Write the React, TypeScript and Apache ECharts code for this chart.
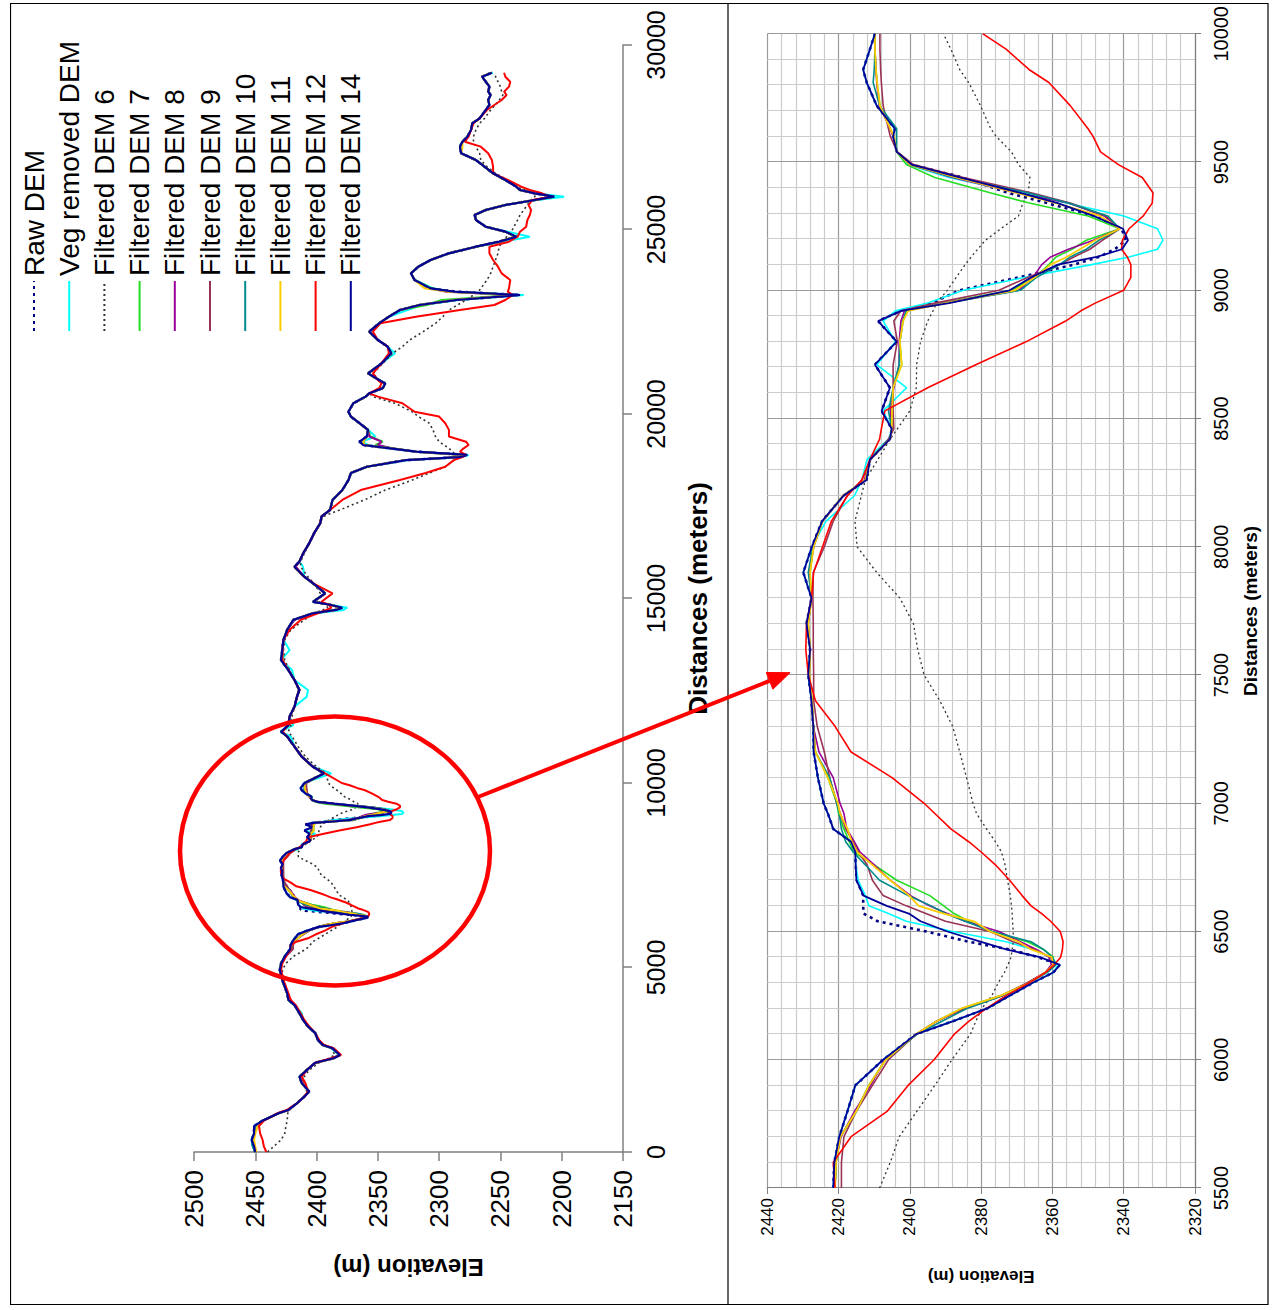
import React, { useEffect, useRef } from "react";
import * as echarts from "echarts";

const FONT = '"Liberation Sans", Arial, Helvetica, sans-serif';

// ---------- series names ----------
const seriesNames = [
  "Raw DEM",
  "Veg removed DEM",
  "Filtered DEM 6",
  "Filtered DEM 7",
  "Filtered DEM 8",
  "Filtered DEM 9",
  "Filtered DEM 10",
  "Filtered DEM 11",
  "Filtered DEM 12",
  "Filtered DEM 14",
];

// ---------- distances (m) ----------
// part A: 0 .. 5300 (full profile only)
const distA = [0, 150, 325, 500, 700, 850, 1050, 1140, 1320, 1500, 1640, 1860, 2040, 2220, 2420, 2540, 2630, 2810, 2900, 3040, 3220, 3400, 3580, 3760, 3980, 4120, 4300, 4480, 4660, 4930, 5110, 5300];
// zoomed section 5500 .. 10000 (both charts)
const distZ = [
  5500, 5600, 5700, 5800, 5900, 6000, 6100, 6150, 6200, 6250,
  6300, 6340, 6370, 6400, 6430, 6460, 6500, 6540, 6570, 6600,
  6640, 6700, 6760, 6810, 6850, 6900, 6960, 7000, 7100, 7200,
  7300, 7400, 7500, 7600, 7700, 7800, 7900, 8000, 8100, 8200,
  8260, 8340, 8420, 8460, 8530, 8620, 8710, 8800, 8880, 8920,
  8950, 9000, 9050, 9100, 9130, 9160, 9195, 9240, 9290, 9340,
  9380, 9440, 9490, 9540, 9600, 9630, 9720, 9810, 9860, 9940,
  10000,
];
// part B: 10260 .. 29250 (full profile only)
const distB = [
  10260, 10440, 10710, 10985, 11260, 11390, 11570, 11800, 12070, 12340,
  12520, 12790, 13060, 13330, 13600, 13880, 14150, 14420, 14600, 14690,
  14750, 14830, 14910, 15140, 15360, 15590, 15860, 16000, 16220, 16500,
  16770, 17040, 17220, 17400, 17670, 17940, 18210, 18400, 18570, 18750,
  18830, 18890, 18980, 19070, 19160, 19250, 19390, 19570, 19750, 19930,
  20060, 20290, 20470, 20560, 20700, 20830, 20920, 21100, 21370, 21645,
  21825, 22006, 22231, 22457, 22637, 22818, 22954, 23089, 23225, 23315,
  23405, 23631, 23811, 23992, 24173, 24354, 24534, 24670, 24805, 24941,
  25076, 25257, 25392, 25528, 25664, 25799, 25890, 25980, 26070, 26160,
  26341, 26522, 26703, 26883, 27064, 27245, 27380, 27516, 27696, 27877,
  28013, 28238, 28374, 28509, 28645, 28735, 28871, 29006, 29141, 29250,
];

// ---------- elevations (m) ----------
const rawA = [2450, 2452, 2453, 2451, 2451, 2444, 2431, 2423, 2416, 2410, 2406, 2412, 2414, 2408, 2401, 2386, 2381, 2387, 2395, 2399, 2401, 2407, 2411, 2414, 2418, 2423, 2424, 2426, 2428, 2430, 2429, 2426];
const vegA = [2450, 2452, 2453, 2451, 2451, 2444, 2431, 2423, 2416, 2410, 2406, 2412, 2414, 2408, 2401, 2387, 2382, 2388, 2395, 2399, 2401, 2407, 2411, 2412, 2418, 2423, 2424, 2426, 2428, 2430, 2429, 2426];
const f6A = [2440, 2435, 2429, 2426, 2425, 2424, 2423.5, 2422, 2416, 2410, 2408, 2410, 2410, 2406, 2398, 2390, 2385, 2388, 2394, 2398, 2401, 2406, 2410, 2413, 2417, 2421, 2423, 2425, 2427, 2428, 2425, 2419];
const f7A = [2450, 2452, 2452, 2451, 2450, 2444, 2431, 2423, 2416, 2410, 2406, 2412, 2414, 2408, 2401, 2386, 2381, 2387, 2395, 2399, 2401, 2407, 2411, 2414, 2418, 2423, 2424, 2426, 2428, 2430, 2429, 2426];
const f8A = [2450, 2451, 2452, 2451, 2450, 2444, 2431, 2423, 2416, 2410, 2406, 2411, 2413, 2408, 2401, 2386, 2381, 2387, 2395, 2399, 2401, 2407, 2411, 2414, 2418, 2422, 2424, 2426, 2428, 2429, 2429, 2425];
const f9A = [2450, 2451, 2452, 2451, 2450, 2444, 2431, 2423, 2416, 2410, 2406, 2411, 2413, 2408, 2401, 2387, 2381, 2387, 2395, 2399, 2401, 2407, 2411, 2414, 2418, 2422, 2424, 2426, 2428, 2429, 2429, 2425];
const f10A = [2450, 2452, 2452, 2451, 2450, 2444, 2431, 2423, 2416, 2410, 2406, 2412, 2414, 2408, 2401, 2386, 2381, 2387, 2395, 2399, 2401, 2407, 2411, 2414, 2418, 2423, 2424, 2426, 2428, 2430, 2429, 2426];
const f11A = [2449, 2450, 2451, 2450, 2448, 2443, 2431, 2423, 2416, 2410, 2406, 2412, 2414, 2408, 2401, 2386, 2381, 2387, 2395, 2399, 2401, 2407, 2411, 2414, 2418, 2423, 2424, 2426, 2428, 2430, 2429, 2426];
const f12A = [2441, 2443, 2444, 2446, 2447, 2443, 2432, 2424, 2416, 2410, 2407, 2409, 2412, 2408, 2401, 2388, 2380, 2386, 2394, 2398, 2401, 2406, 2410, 2413, 2417, 2421, 2423, 2425, 2427, 2429, 2428, 2425];
const f14A = [2450, 2451, 2453, 2451, 2451, 2444, 2431, 2423, 2416, 2410, 2406, 2412, 2414, 2408, 2401, 2386, 2381, 2387, 2395, 2399, 2401, 2407, 2411, 2414, 2418, 2423, 2424, 2426, 2428, 2430, 2429, 2426];

const rawZ = [
  2421.5, 2421.2, 2419.8, 2417.5, 2415.3, 2407.5, 2398.2, 2388, 2378.3, 2372,
  2365.5, 2359.8, 2358, 2364, 2372, 2383.5, 2395.3, 2409, 2413, 2413.1,
  2413.1, 2414.9, 2415.2, 2415.3, 2416.5, 2421.5, 2423, 2424.2, 2425.8, 2427,
  2427.1, 2427.6, 2428.5, 2428, 2429, 2427.6, 2429.9, 2427.5, 2424.6, 2418.6,
  2412.2, 2411.2, 2405.6, 2405.1, 2407.9, 2405.6, 2409.8, 2403.7, 2408.9, 2402.5,
  2394, 2386, 2369.5, 2354, 2347, 2342.5, 2339.4, 2340.6, 2348, 2361.5,
  2372.5, 2385.2, 2399.5, 2403.7, 2404.7, 2404.2, 2409.3, 2412.1, 2413.1, 2411.2,
  2409.8,
];
const vegZ = [
  2421.5, 2421.2, 2419.8, 2417.5, 2415.3, 2407.5, 2398.2, 2388, 2378.3, 2372,
  2365.5, 2359.8, 2358.4, 2360.5, 2365.5, 2373, 2388, 2401, 2406, 2411.5,
  2412.5, 2414.5, 2415.2, 2415.3, 2416.5, 2421.5, 2423, 2424.2, 2425.8, 2427,
  2427.1, 2427.6, 2428.5, 2428, 2429, 2427.6, 2429.9, 2427.5, 2423.5, 2415.5,
  2413.5, 2412, 2406, 2405, 2407.5, 2400.9, 2409.3, 2404, 2407.5, 2404,
  2395, 2385, 2368, 2349, 2338.5, 2330.5, 2329, 2330.5, 2340, 2356,
  2369, 2389, 2400.5, 2403.7, 2404.7, 2404.2, 2409.3, 2412.1, 2413.1, 2411.2,
  2409.8,
];
const f6Z = [
  2408.5, 2405.5, 2403, 2398, 2393, 2388.2, 2383, 2381.5, 2379.8, 2377,
  2375.2, 2373.5, 2372.5, 2371.6, 2371.3, 2371, 2371, 2371.2, 2371.3, 2371.5,
  2371.8, 2372.6, 2373.3, 2374.3, 2376, 2378.5, 2381.3, 2382.3, 2384.1, 2386,
  2388, 2391.6, 2396, 2397.8, 2399, 2402.8, 2409.3, 2414.8, 2415.4, 2413.6,
  2412.5, 2409, 2405.5, 2403.5, 2400, 2398.2, 2398.1, 2397, 2395, 2393.5,
  2392.5, 2389.5, 2387, 2384.5, 2382.8, 2381, 2378.8, 2374.5, 2369.5, 2368.3,
  2366.8, 2366.3, 2369.5, 2371.5, 2375.8, 2377.3, 2380.2, 2383.5, 2386, 2388.5,
  2390.6,
];
const f7Z = [
  2421, 2420.7, 2419.5, 2415, 2411.5, 2406.8, 2398.2, 2392.5, 2385.5, 2374.5,
  2366.5, 2362, 2359.5, 2359.8, 2362.5, 2367, 2377, 2383.5, 2387.6, 2390.5,
  2394.4, 2403.7, 2410, 2415.8, 2417, 2418.5, 2420, 2420.5, 2423, 2426.5,
  2427.1, 2427.4, 2428.2, 2428, 2428.5, 2427.6, 2428, 2427, 2424.5, 2418.7,
  2412.5, 2411.2, 2405.6, 2405.1, 2405, 2404.7, 2402.3, 2402.8, 2401.9, 2401,
  2391, 2371.5, 2365, 2361, 2359, 2354.5, 2350.5, 2341.1, 2350, 2366.5,
  2377.5, 2393, 2401, 2403.7, 2404.5, 2405.5, 2408.4, 2409.2, 2409.5, 2409.8,
  2409.8,
];
const f8Z = [
  2421, 2420.8, 2419.3, 2415.5, 2411, 2407, 2398.2, 2392.5, 2384.5, 2374,
  2367, 2362, 2360.3, 2361, 2364.5, 2369, 2375, 2384.5, 2389.5, 2394.5,
  2399.8, 2405.5, 2410, 2414, 2415.6, 2417.7, 2418.5, 2419.6, 2421.5, 2425.5,
  2427.1, 2427.6, 2428.2, 2428, 2428.5, 2427.6, 2428.2, 2427, 2424.5, 2418.5,
  2412.8, 2411.2, 2405.6, 2405, 2405.5, 2404.5, 2403, 2403, 2402.5, 2401.5,
  2390.5, 2369.5, 2365.5, 2363, 2360.5, 2355.5, 2348.5, 2341.1, 2345.5, 2355.5,
  2370, 2388, 2400, 2403.7, 2404.7, 2405.5, 2408.6, 2409.3, 2409.5, 2409.8,
  2409.8,
];
const f9Z = [
  2419.2, 2419.2, 2418.5, 2415, 2410.5, 2406, 2398.2, 2392.5, 2385, 2374.5,
  2367, 2362, 2359.8, 2360.5, 2365, 2371, 2377.5, 2390, 2395.5, 2401,
  2407.5, 2410.5, 2412, 2414.5, 2416, 2418, 2419.5, 2420.5, 2422.5, 2424,
  2426, 2427, 2427, 2427.1, 2427.1, 2427.2, 2427.1, 2424, 2421.5, 2417.5,
  2413.5, 2411, 2406, 2404.5, 2404.7, 2404.7, 2404.7, 2403.5, 2404.5, 2402.5,
  2393, 2375, 2367, 2358, 2354, 2349.5, 2346, 2341.1, 2345, 2355,
  2366, 2385, 2399, 2403.5, 2405.5, 2406, 2407.5, 2408, 2408.2, 2408.4,
  2408.4,
];
const f10Z = [
  2421, 2420.7, 2419.5, 2415, 2411.5, 2406.8, 2398, 2391, 2384, 2374,
  2366.5, 2361.5, 2359, 2360, 2362.5, 2366, 2377, 2384.5, 2390, 2394,
  2400.5, 2408.5, 2412.5, 2415.9, 2418, 2419.2, 2419.8, 2420.5, 2422.5, 2426.5,
  2427.1, 2427.5, 2428.3, 2428, 2428.7, 2427.6, 2428.5, 2427.2, 2424.5, 2418.6,
  2412.3, 2411.2, 2405.6, 2405.1, 2406, 2404.7, 2403, 2402.8, 2402, 2401,
  2390, 2369, 2364.5, 2358, 2355, 2350.5, 2347, 2341.1, 2344.5, 2355.5,
  2367, 2387.5, 2400, 2403.7, 2403.7, 2403.7, 2408.5, 2410.3, 2410, 2409.8,
  2409.8,
];
const f11Z = [
  2421, 2420.7, 2419.5, 2415, 2411.5, 2406.8, 2398.2, 2392.5, 2385.5, 2374.5,
  2366.5, 2362, 2359.8, 2360.2, 2366, 2369.5, 2377.5, 2382, 2390.5, 2397.5,
  2400.2, 2405.5, 2410.5, 2414.8, 2416.3, 2417.5, 2419.6, 2420.2, 2423, 2426.5,
  2427.1, 2427.4, 2428.2, 2428, 2428.5, 2427.6, 2428, 2427, 2424.5, 2418.7,
  2412.5, 2411.2, 2405.6, 2405.1, 2405, 2404.7, 2402.3, 2402.8, 2401.9, 2400.5,
  2390, 2370.5, 2365, 2360.5, 2356, 2352.3, 2348, 2341.1, 2346.7, 2359,
  2370, 2387, 2400, 2403.7, 2404.5, 2405.5, 2408.4, 2409.2, 2409.5, 2409.8,
  2409.8,
];
const f12Z = [
  2421, 2421.5, 2416.5, 2406.3, 2400.5, 2393.2, 2387.5, 2383.5, 2378.5, 2373,
  2366.5, 2362, 2359.5, 2357.7, 2357.2, 2357, 2357.8, 2360.5, 2363, 2366,
  2368.5, 2372, 2376, 2380, 2383.5, 2388.5, 2393, 2396, 2405, 2416.5,
  2421, 2426.5, 2428.5, 2429.2, 2429, 2427.6, 2427, 2424.5, 2422, 2417.5,
  2413.5, 2411.2, 2408.5, 2408, 2407, 2395, 2381.5, 2367.3, 2356.3, 2352,
  2348, 2340, 2338, 2338, 2339, 2340.6, 2340.4, 2338.5, 2334.5, 2332,
  2331.8, 2334.8, 2341.5, 2346.5, 2348.6, 2350, 2355, 2361, 2366.5, 2373,
  2379.5,
];
const f14Z = [
  2421.5, 2421.2, 2419.8, 2417.5, 2415.3, 2407.5, 2398.2, 2388, 2378.3, 2372,
  2365.5, 2359.8, 2357.9, 2363.5, 2373, 2380, 2389.5, 2397, 2400.3, 2406.5,
  2413, 2415, 2415.2, 2415.3, 2416.5, 2421.5, 2423, 2424.2, 2425.8, 2427,
  2427.1, 2427.6, 2428.5, 2428, 2429, 2427.6, 2429.9, 2427.5, 2424.6, 2418.6,
  2412.2, 2411.2, 2405.6, 2405.1, 2407.9, 2405.6, 2409.8, 2403.7, 2408.9, 2402.5,
  2389, 2372, 2366, 2358.5, 2347.6, 2340.5, 2338.8, 2340.2, 2348.5, 2358.5,
  2369, 2386, 2399.5, 2403.7, 2404.7, 2404.2, 2409.3, 2412.1, 2413.1, 2411.2,
  2409.8,
];

const rawB = [
  2394, 2403, 2412, 2418, 2424, 2429, 2423, 2422, 2418, 2416,
  2414, 2418, 2423, 2429, 2428, 2427, 2424, 2419, 2403, 2384,
  2379, 2389, 2403, 2393, 2401, 2410, 2418, 2414, 2411, 2406,
  2402, 2397, 2396, 2389, 2387, 2379, 2374, 2372, 2359, 2327,
  2284, 2277, 2319, 2340, 2362, 2365, 2359, 2358, 2365, 2372,
  2374, 2370, 2360, 2357, 2346, 2344, 2349, 2358, 2347, 2339,
  2342, 2350, 2357, 2349, 2341, 2332, 2316, 2286, 2234, 2286,
  2308, 2320, 2323, 2317, 2307, 2292, 2270, 2251, 2237, 2246,
  2262, 2270, 2271, 2262, 2246, 2222, 2206, 2222, 2234, 2237,
  2246, 2256, 2263, 2270, 2282, 2283, 2281, 2277, 2274, 2273,
  2267, 2262, 2259, 2260, 2258, 2260, 2259, 2262, 2265, 2257,
];
const vegB = [
  2388, 2403, 2412, 2418, 2421, 2429, 2419, 2422, 2418, 2408,
  2407, 2418, 2420, 2429, 2422, 2427, 2424, 2419, 2401, 2378,
  2375, 2389, 2403, 2393, 2401, 2410, 2411, 2414, 2411, 2406,
  2402, 2397, 2396, 2389, 2387, 2379, 2374, 2372, 2359, 2325,
  2282, 2276, 2319, 2342, 2358, 2363, 2352, 2358, 2365, 2372,
  2374, 2370, 2360, 2357, 2346, 2344, 2349, 2358, 2347, 2336,
  2342, 2350, 2357, 2349, 2341, 2326, 2314, 2284, 2231, 2290,
  2305, 2320, 2323, 2317, 2307, 2292, 2270, 2248, 2226, 2244,
  2262, 2270, 2271, 2262, 2246, 2220, 2198, 2222, 2234, 2237,
  2246, 2256, 2263, 2270, 2282, 2283, 2281, 2277, 2274, 2273,
  2267, 2262, 2259, 2260, 2258, 2260, 2259, 2262, 2265, 2256,
];
const f6B = [
  2392, 2400, 2409, 2415, 2420, 2423, 2421, 2420, 2418, 2416,
  2415, 2418, 2422, 2426, 2427, 2426, 2421, 2410, 2402, 2395,
  2391, 2392, 2398, 2397, 2401, 2407, 2413, 2413, 2410, 2406,
  2402, 2397, 2395, 2381, 2361, 2344, 2322, 2308, 2295, 2288,
  2286, 2287, 2289, 2292, 2296, 2300, 2303, 2305, 2308, 2317,
  2322, 2336, 2354, 2357, 2348, 2346, 2349, 2354, 2346, 2338,
  2330, 2324, 2313, 2303, 2297, 2292, 2285, 2278, 2272, 2268,
  2266, 2261, 2258, 2256, 2254, 2252, 2251, 2248, 2245, 2241,
  2239, 2236, 2234, 2231, 2228, 2225, 2222, 2221, 2230, 2237,
  2244, 2254, 2261, 2266, 2267, 2270, 2272, 2272, 2270, 2267,
  2263, 2258, 2254, 2251, 2248, 2249, 2250, 2252, 2254, 2254,
];
const f7B = [
  2394, 2403, 2412, 2418, 2424, 2429, 2423, 2422, 2418, 2416,
  2414, 2418, 2423, 2429, 2428, 2427, 2424, 2419, 2403, 2385,
  2380, 2389, 2403, 2393, 2401, 2410, 2418, 2414, 2411, 2406,
  2402, 2397, 2396, 2389, 2387, 2379, 2374, 2372, 2359, 2328,
  2286, 2279, 2318, 2338, 2352, 2346, 2356, 2358, 2365, 2372,
  2374, 2370, 2360, 2357, 2346, 2344, 2349, 2358, 2347, 2339,
  2342, 2350, 2357, 2349, 2341, 2332, 2310, 2298, 2240, 2290,
  2306, 2320, 2323, 2317, 2307, 2292, 2270, 2251, 2238, 2246,
  2262, 2270, 2271, 2262, 2246, 2222, 2207, 2222, 2234, 2237,
  2246, 2256, 2263, 2270, 2282, 2283, 2281, 2277, 2274, 2273,
  2267, 2262, 2259, 2260, 2258, 2260, 2259, 2262, 2265, 2257,
];
const f8B = [
  2394, 2403, 2412, 2418, 2424, 2428, 2423, 2422, 2418, 2416,
  2414, 2418, 2423, 2428, 2428, 2427, 2424, 2418, 2402, 2385,
  2380, 2389, 2402, 2393, 2401, 2410, 2417, 2414, 2411, 2406,
  2402, 2397, 2396, 2389, 2387, 2379, 2374, 2372, 2359, 2328,
  2285, 2278, 2318, 2339, 2350, 2347, 2357, 2358, 2365, 2372,
  2374, 2370, 2360, 2357, 2346, 2344, 2349, 2358, 2347, 2339,
  2342, 2350, 2357, 2349, 2341, 2332, 2316, 2287, 2236, 2294,
  2308, 2320, 2323, 2317, 2307, 2292, 2270, 2251, 2238, 2246,
  2262, 2270, 2271, 2262, 2246, 2222, 2207, 2222, 2234, 2237,
  2246, 2256, 2263, 2270, 2282, 2283, 2281, 2277, 2274, 2273,
  2267, 2262, 2259, 2260, 2258, 2260, 2259, 2262, 2265, 2257,
];
const f9B = [
  2394, 2403, 2412, 2418, 2424, 2428, 2423, 2422, 2418, 2416,
  2414, 2418, 2423, 2428, 2428, 2427, 2424, 2419, 2403, 2385,
  2380, 2389, 2403, 2393, 2401, 2410, 2418, 2414, 2411, 2406,
  2402, 2397, 2396, 2389, 2387, 2379, 2374, 2372, 2359, 2328,
  2285, 2278, 2319, 2340, 2361, 2362, 2359, 2358, 2365, 2372,
  2374, 2370, 2360, 2357, 2346, 2344, 2349, 2358, 2347, 2339,
  2342, 2350, 2357, 2349, 2341, 2332, 2316, 2287, 2236, 2288,
  2308, 2320, 2323, 2317, 2307, 2292, 2270, 2251, 2238, 2246,
  2262, 2270, 2271, 2262, 2246, 2222, 2207, 2222, 2234, 2237,
  2246, 2256, 2263, 2270, 2282, 2283, 2281, 2277, 2274, 2273,
  2267, 2262, 2259, 2260, 2258, 2260, 2259, 2262, 2265, 2257,
];
const f10B = [
  2394, 2403, 2412, 2418, 2424, 2429, 2423, 2422, 2418, 2416,
  2414, 2418, 2423, 2429, 2428, 2427, 2424, 2419, 2403, 2385,
  2380, 2389, 2403, 2393, 2401, 2410, 2418, 2414, 2411, 2406,
  2402, 2397, 2396, 2389, 2387, 2379, 2374, 2372, 2359, 2328,
  2285, 2279, 2319, 2340, 2361, 2364, 2359, 2358, 2365, 2372,
  2374, 2370, 2360, 2357, 2346, 2344, 2349, 2358, 2347, 2339,
  2342, 2350, 2357, 2349, 2341, 2332, 2316, 2287, 2237, 2289,
  2308, 2320, 2323, 2317, 2307, 2292, 2270, 2251, 2238, 2246,
  2262, 2270, 2271, 2262, 2246, 2222, 2207, 2222, 2234, 2237,
  2246, 2256, 2263, 2270, 2282, 2283, 2281, 2277, 2274, 2273,
  2267, 2262, 2259, 2260, 2258, 2260, 2259, 2262, 2265, 2257,
];
const f11B = [
  2394, 2403, 2412, 2418, 2424, 2428, 2423, 2422, 2418, 2416,
  2414, 2418, 2423, 2428, 2428, 2427, 2424, 2419, 2403, 2385,
  2380, 2389, 2403, 2393, 2401, 2410, 2418, 2414, 2411, 2406,
  2402, 2397, 2396, 2389, 2387, 2379, 2374, 2372, 2359, 2328,
  2285, 2279, 2319, 2340, 2361, 2362, 2359, 2358, 2365, 2372,
  2374, 2370, 2360, 2357, 2346, 2344, 2349, 2358, 2347, 2339,
  2342, 2350, 2357, 2349, 2341, 2332, 2316, 2287, 2238, 2292,
  2312, 2320, 2323, 2317, 2307, 2292, 2270, 2251, 2238, 2246,
  2262, 2270, 2271, 2262, 2246, 2222, 2207, 2222, 2234, 2237,
  2246, 2256, 2263, 2270, 2282, 2281, 2281, 2277, 2274, 2273,
  2267, 2262, 2259, 2260, 2258, 2260, 2259, 2262, 2265, 2257,
];
const f12B = [
  2393, 2403, 2412, 2418, 2424, 2428, 2423, 2422, 2418, 2416,
  2414, 2418, 2423, 2428, 2428, 2427, 2422, 2413, 2399, 2392,
  2388, 2390, 2396, 2387, 2400, 2410, 2418, 2414, 2411, 2406,
  2402, 2397, 2396, 2389, 2379, 2364, 2332, 2311, 2295, 2288,
  2281, 2278, 2283, 2280, 2276, 2278, 2292, 2292, 2295, 2300,
  2320, 2330, 2350, 2357, 2349, 2347, 2350, 2354, 2347, 2341,
  2342, 2350, 2354, 2348, 2319, 2283, 2255, 2246, 2240, 2244,
  2243, 2242, 2249, 2252, 2256, 2259, 2259, 2243, 2236, 2234,
  2229, 2228, 2226, 2225, 2227, 2224, 2209, 2216, 2226, 2233,
  2244, 2256, 2256, 2257, 2260, 2266, 2279, 2276, 2274, 2272,
  2267, 2261, 2255, 2249, 2245, 2247, 2243, 2242, 2246, 2247,
];
const f14B = [
  2394, 2403, 2412, 2418, 2424, 2429, 2423, 2422, 2418, 2416,
  2414, 2418, 2423, 2429, 2428, 2427, 2424, 2419, 2403, 2384,
  2379, 2389, 2403, 2393, 2401, 2410, 2418, 2414, 2411, 2406,
  2402, 2397, 2396, 2389, 2387, 2379, 2374, 2372, 2359, 2327,
  2284, 2277, 2319, 2340, 2362, 2365, 2359, 2358, 2365, 2372,
  2374, 2370, 2360, 2357, 2346, 2344, 2349, 2358, 2347, 2339,
  2342, 2350, 2357, 2349, 2341, 2332, 2316, 2286, 2234, 2288,
  2307, 2320, 2323, 2317, 2307, 2292, 2270, 2251, 2237, 2246,
  2262, 2270, 2271, 2262, 2246, 2222, 2206, 2222, 2234, 2237,
  2246, 2256, 2263, 2270, 2282, 2283, 2281, 2277, 2274, 2273,
  2267, 2262, 2259, 2260, 2258, 2260, 2259, 2262, 2265, 2257,
];

const partsA = [rawA, vegA, f6A, f7A, f8A, f9A, f10A, f11A, f12A, f14A];
const partsZ = [rawZ, vegZ, f6Z, f7Z, f8Z, f9Z, f10Z, f11Z, f12Z, f14Z];
const partsB = [rawB, vegB, f6B, f7B, f8B, f9B, f10B, f11B, f12B, f14B];

// ---------- styles ----------
const lineColors = ["#000080", "#00FFFF", "#333333", "#22DD22", "#990099", "#993355", "#008B8B", "#FFCC00", "#FF0000", "#000099"];
const lineDash: any[] = [[3, 4], "solid", [2, 3], "solid", "solid", "solid", "solid", "solid", "solid", "solid"];
const widthLeft = [2.6, 2, 1.6, 2, 2, 2, 2, 2, 2, 2.2];
const widthRight = [2.6, 1.6, 1.3, 1.6, 1.6, 1.6, 1.6, 1.8, 1.6, 1.8];

function pairs(xs: number[], ys: number[]) {
  const n = Math.min(xs.length, ys.length);
  const out: number[][] = [];
  for (let i = 0; i < n; i++) out.push([xs[i], ys[i]]);
  return out;
}

const plain = (v: number) => String(v);

function buildOption() {
  const series: any[] = [];
  seriesNames.forEach((name, i) => {
    const left = [...pairs(distA, partsA[i]), ...pairs(distZ, partsZ[i]), ...pairs(distB, partsB[i])];
    series.push({
      name,
      type: "line",
      xAxisIndex: 0,
      yAxisIndex: 0,
      data: left,
      symbol: "none",
      showSymbol: false,
      z: 2 + i,
      lineStyle: { color: lineColors[i], width: widthLeft[i], type: lineDash[i] },
      itemStyle: { color: lineColors[i] },
    });
  });
  seriesNames.forEach((name, i) => {
    series.push({
      name,
      type: "line",
      xAxisIndex: 1,
      yAxisIndex: 1,
      data: pairs(distZ, partsZ[i]),
      symbol: "none",
      showSymbol: false,
      z: 2 + i,
      lineStyle: { color: lineColors[i], width: widthRight[i], type: lineDash[i] },
      itemStyle: { color: lineColors[i] },
    });
  });

  const axisGray = "#808080";
  // arrow geometry (annotation, container pixel coords)
  const tip = [632.3, 780];
  const dir = [0.37, 0.929];
  const headL = 22;
  const headW = 9;
  const base = [tip[0] - headL * dir[0], tip[1] - headL * dir[1]];
  const perp = [-dir[1], dir[0]];

  return {
    animation: false,
    textStyle: { fontFamily: FONT, color: "#000" },
    legend: {
      orient: "vertical",
      left: 968,
      top: 5,
      itemWidth: 50,
      itemHeight: 14,
      itemGap: 7.2,
      data: seriesNames,
      itemStyle: { opacity: 0, borderWidth: 0 },
      textStyle: { fontSize: 28, lineHeight: 28, color: "#000", fontFamily: FONT },
      selectedMode: false,
    },
    grid: [
      { left: 153, top: 184, width: 1107, height: 429 },
      { left: 117, top: 757.3, width: 1158.7, height: 427.7 },
    ],
    xAxis: [
      {
        gridIndex: 0,
        type: "value",
        min: 0,
        max: 30000,
        interval: 5000,
        name: "Distances (meters)",
        nameLocation: "middle",
        nameGap: 62,
        nameTextStyle: { fontSize: 26, fontWeight: "bold", color: "#000", fontFamily: FONT },
        axisLine: { onZero: false, lineStyle: { color: axisGray, width: 1.5 } },
        axisTick: { show: true, length: 9, lineStyle: { color: axisGray, width: 1.5 } },
        axisLabel: { fontSize: 25, color: "#000", margin: 20, fontFamily: FONT, formatter: plain },
        splitLine: { show: false },
      },
      {
        gridIndex: 1,
        type: "value",
        min: 5500,
        max: 10000,
        interval: 500,
        name: "Distances (meters)",
        nameLocation: "middle",
        nameGap: 46,
        nameTextStyle: { fontSize: 19, fontWeight: "bold", color: "#000", fontFamily: FONT },
        axisLine: { onZero: false, lineStyle: { color: axisGray, width: 1.2 } },
        axisTick: { show: true, length: 6, lineStyle: { color: axisGray } },
        axisLabel: { fontSize: 20, color: "#000", margin: 16, fontFamily: FONT, showMinLabel: true, showMaxLabel: true, formatter: plain },
        splitLine: { show: true, lineStyle: { color: "#9A9A9A", width: 1.2 } },
        minorTick: { show: false, splitNumber: 5 },
        minorSplitLine: { show: true, lineStyle: { color: "#CCCCCC", width: 1.2 } },
      },
    ],
    yAxis: [
      {
        gridIndex: 0,
        type: "value",
        min: 2150,
        max: 2500,
        interval: 50,
        name: "Elevation (m)",
        nameLocation: "middle",
        nameGap: 103,
        nameRotate: 90,
        nameTextStyle: { fontSize: 24, fontWeight: "bold", color: "#000", fontFamily: FONT },
        axisLine: { show: true, onZero: false, lineStyle: { color: axisGray, width: 1.5 } },
        axisTick: { show: true, length: 9, lineStyle: { color: axisGray, width: 1.5 } },
        axisLabel: { fontSize: 26, color: "#000", margin: 18, fontFamily: FONT, formatter: plain },
        splitLine: { show: false },
      },
      {
        gridIndex: 1,
        type: "value",
        min: 2320,
        max: 2440,
        interval: 20,
        name: "Elevation (m)",
        nameLocation: "middle",
        nameGap: 80,
        nameRotate: 90,
        nameTextStyle: { fontSize: 17, fontWeight: "bold", color: "#000", fontFamily: FONT },
        axisLine: { show: true, onZero: false, lineStyle: { color: axisGray, width: 1.2 } },
        axisTick: { show: true, length: 6, lineStyle: { color: axisGray } },
        axisLabel: { fontSize: 17, color: "#000", margin: 10, fontFamily: FONT, formatter: plain },
        splitLine: { show: true, lineStyle: { color: "#9A9A9A", width: 1.2 } },
        minorTick: { show: false, splitNumber: 5 },
        minorSplitLine: { show: true, lineStyle: { color: "#CCCCCC", width: 1.2 } },
      },
    ],
    series,
    graphic: [
      {
        type: "rect",
        z: 100,
        silent: true,
        shape: { x: 0.5, y: 0.5, width: 1301, height: 1257.5 },
        style: { fill: "none", stroke: "#000", lineWidth: 1.2 },
      },
      {
        type: "line",
        z: 100,
        silent: true,
        shape: { x1: 0, y1: 718, x2: 1302, y2: 718 },
        style: { stroke: "#000", lineWidth: 1.2 },
      },
      {
        type: "ellipse",
        z: 100,
        silent: true,
        shape: { cx: 454, cy: 325, rx: 134.5, ry: 155 },
        style: { fill: "none", stroke: "#FF0000", lineWidth: 4.5 },
      },
      {
        type: "line",
        z: 100,
        silent: true,
        shape: { x1: 508, y1: 468, x2: base[0], y2: base[1] },
        style: { stroke: "#FF0000", lineWidth: 4 },
      },
      {
        type: "polygon",
        z: 100,
        silent: true,
        shape: {
          points: [
            [tip[0], tip[1]],
            [base[0] + headW * perp[0], base[1] + headW * perp[1]],
            [base[0] - headW * perp[0], base[1] - headW * perp[1]],
          ],
        },
        style: { fill: "#FF0000", stroke: "#FF0000", lineWidth: 1 },
      },
    ],
  };
}

export default function App() {
  const ref = useRef<HTMLDivElement>(null);
  useEffect(() => {
    if (!ref.current) return;
    const chart = echarts.init(ref.current, null, { renderer: "svg", width: 1302, height: 1260 });
    chart.setOption(buildOption() as any);
    return () => chart.dispose();
  }, []);
  return (
    <div
      ref={ref}
      style={{
        position: "absolute",
        left: 10,
        top: 1305,
        width: 1302,
        height: 1260,
        transform: "rotate(-90deg)",
        transformOrigin: "0 0",
        background: "#fff",
      }}
    />
  );
}
